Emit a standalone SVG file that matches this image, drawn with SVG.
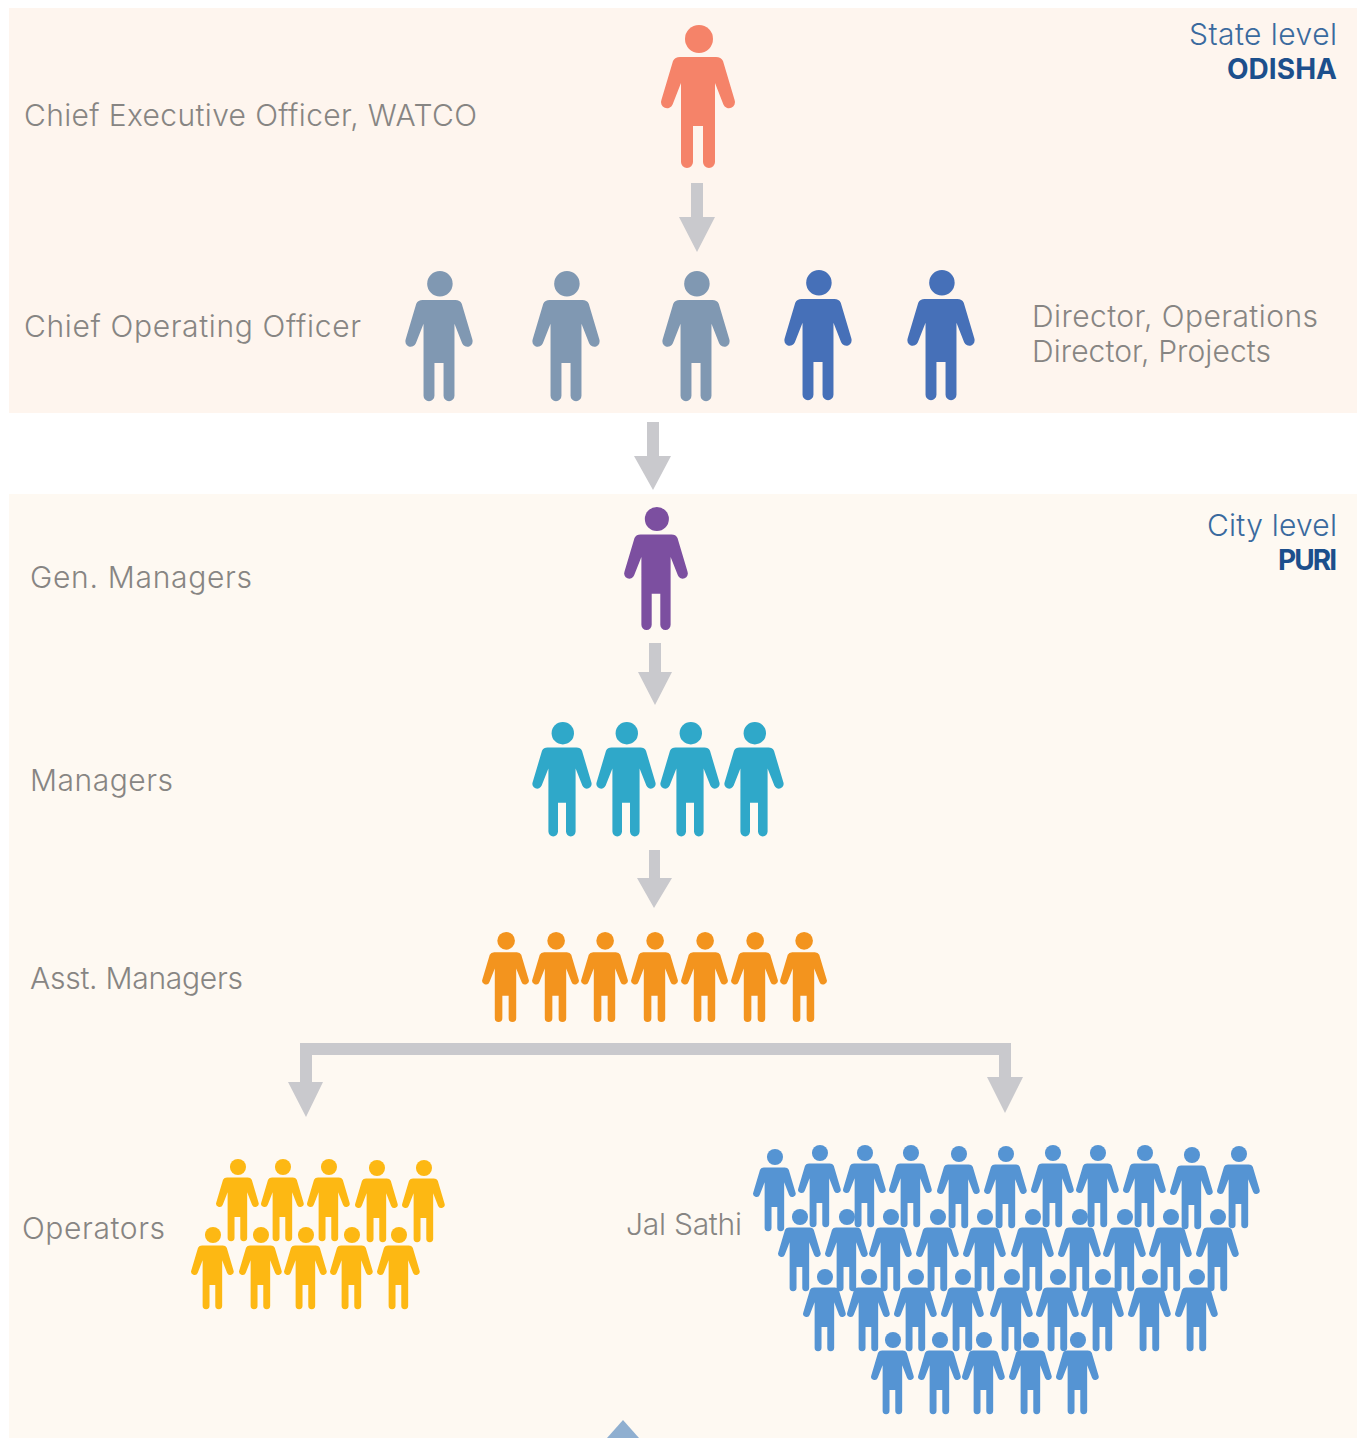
<svg xmlns="http://www.w3.org/2000/svg" width="1361" height="1438" viewBox="0 0 1361 1438">
<style>
text{font-family:"Inter","Open Sans","Liberation Sans",sans-serif}
.l{font-size:30px;fill:#878583;font-weight:300}
.r{font-size:30px;text-anchor:end;fill:#3a6a9e;font-weight:300}
.b{font-size:28px;text-anchor:end;fill:#1c4f8c;font-weight:700}
.a{fill:#c9c9cd}
.ceo{fill:#f58369}.g{fill:#8098b2}.d{fill:#4670b8}.gm{fill:#7c4fa0}.m{fill:#2fa8c9}.am{fill:#f3941e}.op{fill:#fdb813}.js{fill:#5594d3}
</style>
<defs>
<g id="p">
<circle cx="1" cy="14" r="14"/>
<path d="M-18 32H18Q23 32 25 36L36.600 75A6 6 0 0 1 25.400 79.500L17 58V137A6 6 0 0 1 5 137V101H-5V137A6 6 0 0 1-17 137V58L-25.400 79.500A6 6 0 0 1-36.600 75L-25 36Q-23 32-18 32Z"/>
</g>
</defs>
<rect width="1361" height="1438" fill="#fff"/>
<rect id="state-panel" x="9" y="8" width="1348" height="405" fill="#fef5ee"/>
<rect id="city-panel" x="9" y="494" width="1348" height="944" fill="#fef9f2"/>
<g id="connectors">
<path class="a" d="M691 183H703V217H715L697 252L679 217H691Z"/>
<path class="a" d="M647 422H659V456H671L653 490L634 456H647Z"/>
<path class="a" d="M649 643H661V672H672L655 705L638 672H649Z"/>
<path class="a" d="M649 850H660V878H672L654 908L637 878H649Z"/>
<path class="a" d="M300 1043H1011V1077H1023L1005 1113L987 1077H999V1055H312V1082H323L306 1117L288 1082H300Z"/>
<path d="M623 1420L639 1438H607Z" fill="#8fafd0"/>
</g>
<g id="state-label"><text class="r" x="1337" y="45" textLength="148">State level</text><text class="b" x="1337" y="79" textLength="110">ODISHA</text></g>
<g id="city-label"><text class="r" x="1337" y="536" textLength="130">City level</text><text class="b" x="1337" y="570" textLength="59">PURI</text></g>
<g id="ceo"><text class="l" x="24" y="126" textLength="453">Chief Executive Officer, WATCO</text><use href="#p" class="ceo" transform="translate(698,25)"/></g>
<g id="coo"><text class="l" x="24" y="337" textLength="337">Chief Operating Officer</text>
<use href="#p" class="g" transform="translate(439,271) scale(.91)"/><use href="#p" class="g" transform="translate(566,271) scale(.91)"/><use href="#p" class="g" transform="translate(696,271) scale(.91)"/></g>
<g id="directors"><use href="#p" class="d" transform="translate(818,270) scale(.91)"/><use href="#p" class="d" transform="translate(941,270) scale(.91)"/>
<text class="l" x="1032" y="327" textLength="286">Director, Operations</text><text class="l" x="1032" y="362" textLength="239">Director, Projects</text></g>
<g id="gen-managers"><text class="l" x="30" y="588" textLength="222">Gen. Managers</text><use href="#p" class="gm" transform="translate(656,507) scale(.86)"/></g>
<g id="managers"><text class="l" x="30" y="791" textLength="143">Managers</text>
<use href="#p" class="m" transform="translate(562,722) scale(.8)"/><use href="#p" class="m" transform="translate(626,722) scale(.8)"/><use href="#p" class="m" transform="translate(690,722) scale(.8)"/><use href="#p" class="m" transform="translate(754,722) scale(.8)"/></g>
<g id="asst-managers"><text class="l" x="30" y="989" textLength="213">Asst. Managers</text>
<use href="#p" class="am" transform="translate(505.500,932) scale(.63)"/><use href="#p" class="am" transform="translate(555.500,932) scale(.63)"/><use href="#p" class="am" transform="translate(604.500,932) scale(.63)"/><use href="#p" class="am" transform="translate(654.500,932) scale(.63)"/><use href="#p" class="am" transform="translate(704.500,932) scale(.63)"/><use href="#p" class="am" transform="translate(754.500,932) scale(.63)"/><use href="#p" class="am" transform="translate(803.500,932) scale(.63)"/></g>
<g id="operators"><text class="l" x="22" y="1239" textLength="143">Operators</text>
<use href="#p" class="op" transform="translate(237.400,1159) scale(.575)"/><use href="#p" class="op" transform="translate(282.400,1159) scale(.575)"/><use href="#p" class="op" transform="translate(328.400,1159) scale(.575)"/><use href="#p" class="op" transform="translate(376.400,1160) scale(.575)"/><use href="#p" class="op" transform="translate(423.400,1160) scale(.575)"/>
<use href="#p" class="op" transform="translate(212.400,1227) scale(.575)"/><use href="#p" class="op" transform="translate(260.400,1227) scale(.575)"/><use href="#p" class="op" transform="translate(305.400,1227) scale(.575)"/><use href="#p" class="op" transform="translate(351.400,1227) scale(.575)"/><use href="#p" class="op" transform="translate(398.400,1227) scale(.575)"/></g>
<g id="jal-sathi"><text class="l" x="626" y="1235" textLength="116">Jal Sathi</text>
<use href="#p" class="js" transform="translate(774.400,1149) scale(.575)"/><use href="#p" class="js" transform="translate(819.400,1145) scale(.575)"/><use href="#p" class="js" transform="translate(864.400,1145) scale(.575)"/><use href="#p" class="js" transform="translate(910.400,1145) scale(.575)"/><use href="#p" class="js" transform="translate(958.400,1146) scale(.575)"/><use href="#p" class="js" transform="translate(1005.400,1146) scale(.575)"/><use href="#p" class="js" transform="translate(1052.400,1145) scale(.575)"/><use href="#p" class="js" transform="translate(1097.400,1145) scale(.575)"/><use href="#p" class="js" transform="translate(1144.400,1145) scale(.575)"/><use href="#p" class="js" transform="translate(1191.400,1147) scale(.575)"/><use href="#p" class="js" transform="translate(1238.400,1146) scale(.575)"/>
<use href="#p" class="js" transform="translate(799.400,1209) scale(.575)"/><use href="#p" class="js" transform="translate(846.400,1209) scale(.575)"/><use href="#p" class="js" transform="translate(890.400,1209) scale(.575)"/><use href="#p" class="js" transform="translate(937.400,1209) scale(.575)"/><use href="#p" class="js" transform="translate(984.400,1209) scale(.575)"/><use href="#p" class="js" transform="translate(1032.400,1209) scale(.575)"/><use href="#p" class="js" transform="translate(1079.400,1209) scale(.575)"/><use href="#p" class="js" transform="translate(1124.400,1209) scale(.575)"/><use href="#p" class="js" transform="translate(1170.400,1209) scale(.575)"/><use href="#p" class="js" transform="translate(1217.400,1209) scale(.575)"/>
<use href="#p" class="js" transform="translate(824.400,1269) scale(.575)"/><use href="#p" class="js" transform="translate(868.400,1269) scale(.575)"/><use href="#p" class="js" transform="translate(915.400,1269) scale(.575)"/><use href="#p" class="js" transform="translate(962.400,1269) scale(.575)"/><use href="#p" class="js" transform="translate(1011.400,1269) scale(.575)"/><use href="#p" class="js" transform="translate(1057.400,1269) scale(.575)"/><use href="#p" class="js" transform="translate(1102.400,1269) scale(.575)"/><use href="#p" class="js" transform="translate(1149.400,1269) scale(.575)"/><use href="#p" class="js" transform="translate(1196.400,1269) scale(.575)"/>
<use href="#p" class="js" transform="translate(892.400,1332) scale(.575)"/><use href="#p" class="js" transform="translate(939.400,1332) scale(.575)"/><use href="#p" class="js" transform="translate(983.400,1332) scale(.575)"/><use href="#p" class="js" transform="translate(1030.400,1332) scale(.575)"/><use href="#p" class="js" transform="translate(1077.400,1332) scale(.575)"/></g>
</svg>
